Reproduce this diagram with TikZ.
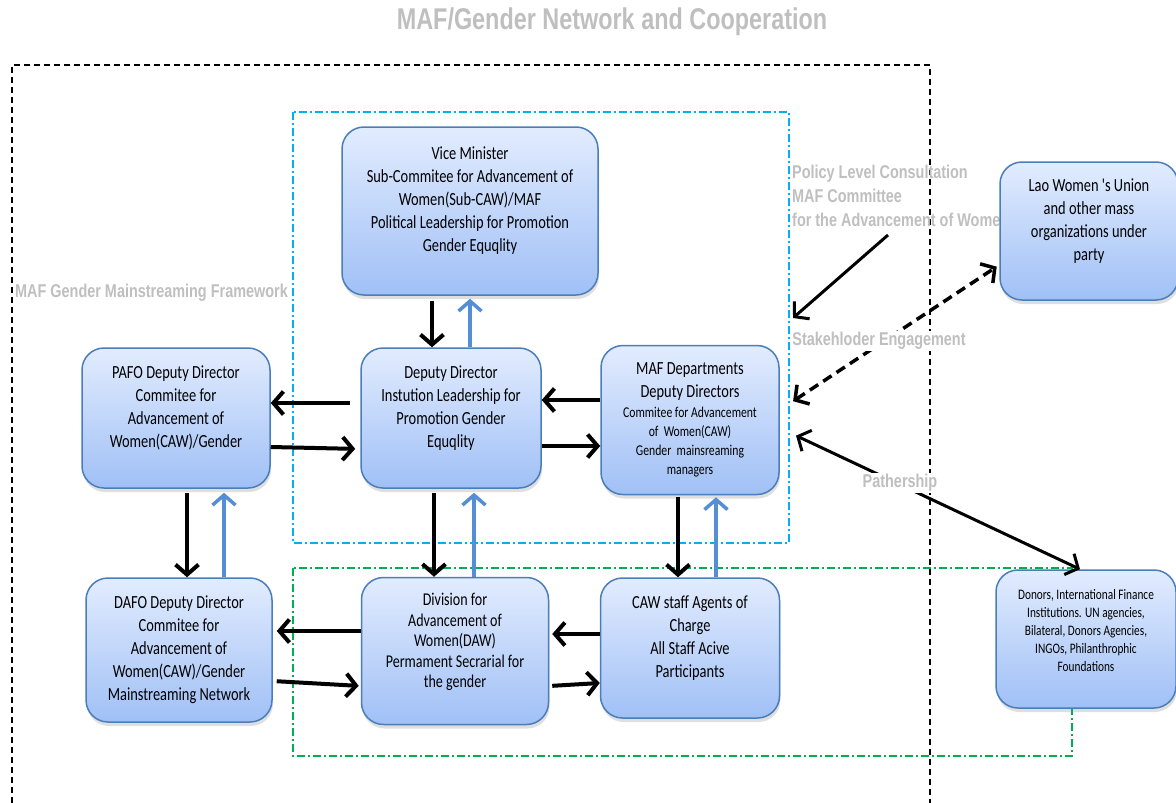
\documentclass[tikz,border=0pt]{standalone}
\usepackage{fontspec}
\newfontfamily\boxfont[FakeStretch=0.78]{Carlito}
\newfontfamily\lblfont[FakeStretch=0.78]{Liberation Sans}
\usepackage{tikz}
\usetikzlibrary{arrows.meta,shadows,positioning}
\definecolor{boxline}{RGB}{74,126,187}
\definecolor{boxtop}{RGB}{226,236,254}
\definecolor{boxbot}{RGB}{160,192,246}
\definecolor{upblue}{RGB}{85,142,213}
\definecolor{frameblue}{RGB}{0,176,240}
\definecolor{framegreen}{RGB}{0,176,80}
\definecolor{lblgray}{RGB}{191,191,191}
\newcommand{\bigline}[1]{{\fontsize{18.5}{23}\selectfont #1}}
\tikzset{
  orgbox/.style={draw=boxline, line width=1.5pt, rounded corners=22pt,
    top color=boxtop, bottom color=boxbot, align=center,
    font=\boxfont\fontsize{18.5}{23}\selectfont,
    drop shadow={shadow xshift=1pt,shadow yshift=-4pt,opacity=0.25}},
  tip/.style={-{Straight Barb[length=10pt,width=23pt]}},
  both/.style={{Straight Barb[length=10pt,width=23pt]}-{Straight Barb[length=10pt,width=23pt]}},
  blk/.style={tip, line width=4pt},
  blu/.style={tip, draw=upblue, line width=3.5pt},
  lbl/.style={text=lblgray, font=\lblfont\bfseries\fontsize{18.5}{24}\selectfont, inner sep=1pt},
  dashbox/.style={line width=1.5pt, dash pattern=on 8pt off 3pt on 2pt off 3pt}
}
\begin{document}
\begin{tikzpicture}[x=1pt,y=-1pt]
\useasboundingbox (0,0) rectangle (1176,803);
\draw[line width=1.3pt, dash pattern=on 6pt off 4pt] (12,803) -- (12,65) -- (930,65) -- (930,803);
\draw[dashbox, draw=frameblue] (293,112) rectangle (789,543);
\draw[dashbox, draw=framegreen] (293,568) rectangle (1072,756);

\node[lbl, font=\lblfont\bfseries\fontsize{30}{36}\selectfont] (title) at (612,22) {MAF/Gender Network and Cooperation};
\node[lbl, anchor=west] (framework) at (14,293) {MAF Gender Mainstreaming Framework};
\node[lbl, anchor=north west, align=left] (policy) at (791,164) {Policy Level Consultation\\MAF Committee\\for the Advancement of Women};

\node[orgbox, minimum width=256pt, minimum height=168pt] (vice) at (470,211) {Vice Minister\\Sub-Commitee for Advancement of\\Women(Sub-CAW)/MAF\\Political Leadership for Promotion\\Gender Equqlity\\ \mbox{}};
\node[orgbox, minimum width=188pt, minimum height=140pt] (pafo) at (176,418) {PAFO Deputy Director\\Commitee for\\Advancement of\\Women(CAW)/Gender\\ \mbox{}};
\node[orgbox, minimum width=180pt, minimum height=140pt] (dep) at (451,418) {Deputy Director\\Instution Leadership for\\Promotion Gender\\Equqlity\\ \mbox{}};
\node[orgbox, minimum width=178pt, minimum height=149pt, font=\boxfont\fontsize{15}{19}\selectfont] (maf) at (690,420) {\bigline{MAF Departments}\\[4pt]\bigline{Deputy Directors}\\[1pt]Commitee for Advancement\\of~ Women(CAW)\\Gender~ mainsreaming\\managers};
\node[orgbox, minimum width=186pt, minimum height=144pt] (dafo) at (179,650) {DAFO Deputy Director\\Commitee for\\Advancement of\\Women(CAW)/Gender\\Mainstreaming Network};
\node[orgbox, minimum width=187pt, minimum height=147pt, font=\boxfont\fontsize{18}{20.5}\selectfont] (daw) at (455,651) {Division for\\Advancement of\\Women(DAW)\\Permament Secrarial for\\the gender\\ \mbox{}};
\node[orgbox, minimum width=179pt, minimum height=140pt] (caw) at (690,648) {CAW staff Agents of\\Charge\\All Staff Acive\\Participants\\ \mbox{}};
\node[orgbox, minimum width=178pt, minimum height=138pt] (lwu) at (1089,231) {Lao Women 's Union\\and other mass\\organizations under\\party\\ \mbox{}};
\node[orgbox, minimum width=180pt, minimum height=138pt, font=\boxfont\fontsize{14.5}{18}\selectfont] (donor) at (1086,639) {Donors, International Finance\\Institutions. UN agencies,\\Bilateral, Donors Agencies,\\INGOs, Philanthrophic\\Foundations\\ \mbox{}};

\draw[blk, shorten <=5pt] ([xshift=-19pt]dep.north |- vice.south) -- ([xshift=-19pt]dep.north);
\draw[blu, shorten >=3pt] ([xshift=19pt]dep.north) -- ([xshift=19pt]dep.north |- vice.south);
\draw[blk, shorten <=4pt] ([xshift=11pt]pafo.south) -- ([xshift=11pt]pafo.south |- dafo.north);
\draw[blu, shorten >=4pt] ([xshift=48pt]pafo.south |- dafo.north) -- ([xshift=48pt]pafo.south);
\draw[blk, shorten <=4pt] ([xshift=-17pt]dep.south) -- ([xshift=-17pt]dep.south |- daw.north);
\draw[blu, shorten >=4pt] ([xshift=23pt]dep.south |- daw.north) -- ([xshift=23pt]dep.south);
\draw[blk, shorten <=2pt] ([xshift=-12pt]maf.south) -- ([xshift=-12pt]maf.south |- caw.north);
\draw[blu, shorten >=2pt] ([xshift=26pt]maf.south |- caw.north) -- ([xshift=26pt]maf.south);

\draw[blk, shorten <=10pt] ([yshift=15pt]dep.west) -- ([yshift=15pt]pafo.east);
\draw[blk, shorten >=5pt] ([yshift=-29pt]pafo.east) -- ([yshift=-31pt]dep.west);
\draw[blk] ([yshift=20pt]maf.west) -- ([yshift=18pt]dep.east);
\draw[blk] ([yshift=-28pt]dep.east) -- ([yshift=-26pt]maf.west);
\draw[blk, shorten >=4pt] ([yshift=20pt]daw.west) -- ([yshift=19pt]dafo.east);
\draw[blk, shorten <=4pt, shorten >=2pt] ([yshift=-31pt]dafo.east) -- ([yshift=-35pt]daw.west);
\draw[blk, shorten >=3pt] ([yshift=14pt]caw.west) -- ([yshift=17pt]daw.east);
\draw[blk, shorten <=3pt] ([yshift=-35pt]daw.east) -- ([yshift=-35pt]caw.west);

\coordinate (polstart) at (888,235);
\coordinate (polend) at (793,318);
\draw[blk, line width=3pt] (polstart) -- (polend);
\draw[both, line width=3.5pt, dash pattern=on 10pt off 6pt, shorten <=16pt, shorten >=3pt] ([yshift=10pt]maf.east) -- ([yshift=-34pt]lwu.west);
\draw[both, line width=3pt, shorten <=18pt] ([yshift=-8pt]maf.east) -- ([xshift=-6pt]donor.north);

\node[lbl, fill=white] (stake) at (879,341) {Stakehloder Engagement};
\node[lbl, fill=white] (partner) at (900,483) {Pathership};
\end{tikzpicture}
\end{document}
